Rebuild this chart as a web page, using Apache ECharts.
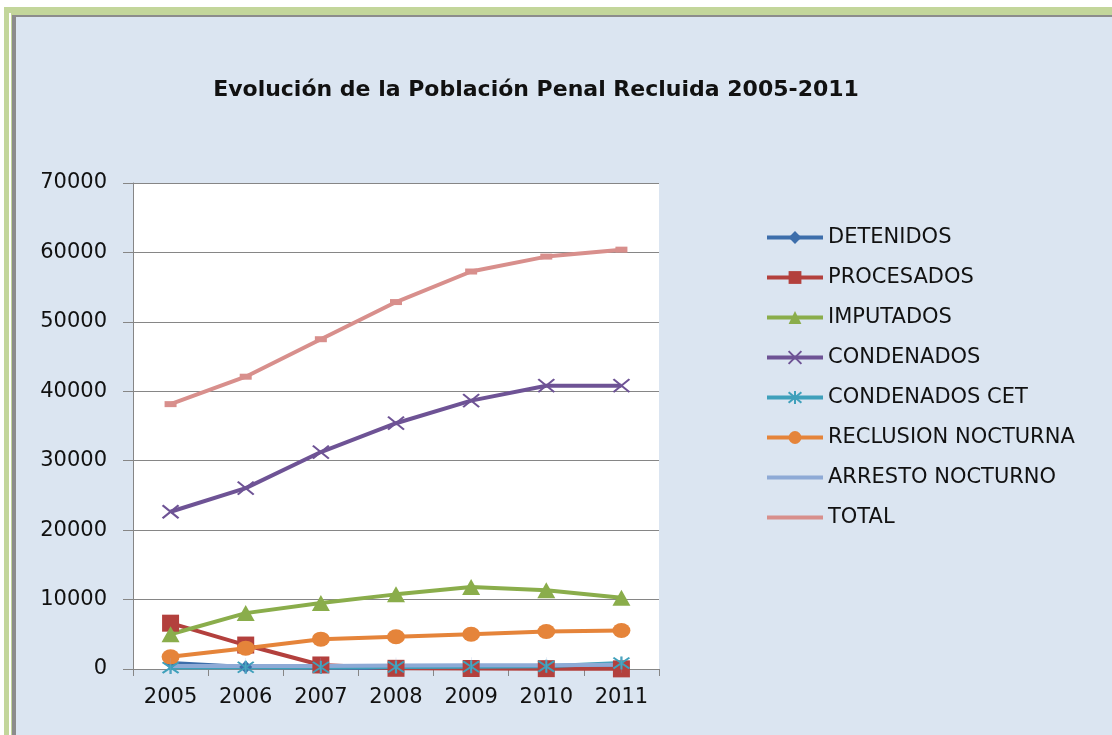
<!DOCTYPE html>
<html>
<head>
<meta charset="utf-8">
<script src="https://cdn.jsdelivr.net/npm/echarts@6/dist/echarts.min.js"></script>
<style>
html,body{margin:0;padding:0;background:#fff;}
#chart{width:1112px;height:735px;}
</style>
</head>
<body>
<div id="chart"></div>
<script>
const years = ['2005','2006','2007','2008','2009','2010','2011'];
const yTicks = [0, 10000, 20000, 30000, 40000, 50000, 60000, 70000];
const detenidos = [850, 280, 200, 150, 150, 150, 180];
const procesados = [6600, 3450, 580, 100, 70, 50, 20];
const imputados = [5000, 8050, 9500, 10750, 11800, 11350, 10250];
const condenados = [22650, 26050, 31250, 35400, 38650, 40800, 40800];
const condenadosCET = [200, 250, 250, 300, 330, 380, 850];
const reclusionNocturna = [1750, 3000, 4300, 4650, 5000, 5400, 5550];
const arrestoNocturno = [450, 450, 450, 500, 550, 550, 600];
const total = [38150, 42100, 47500, 52850, 57250, 59400, 60400];

const chart = echarts.init(document.getElementById('chart'), null, {renderer: 'canvas'});
const FONT = 'DejaVu Sans';
const X_PATH = 'path://M0,0 L10,10 M10,0 L0,10';
const AST_PATH = 'path://M0,0 L10,10 M10,0 L0,10 M5,-1 L5,11';
const BAR_V = 'path://M0,0 L1,0 L1,9 L0,9 Z';

function mk(name, data, color, symbol, size, extra) {
  return Object.assign({
    name: name, type: 'line', data: data,
    symbol: symbol, symbolSize: size,
    lineStyle: {color: color, width: 4},
    itemStyle: {color: color},
    animation: false
  }, extra || {});
}

chart.setOption({
  backgroundColor: '#ffffff',
  animation: false,
  graphic: [
    {type: 'rect', z: -10, shape: {x: 4, y: 7, width: 1108, height: 728}, style: {fill: '#c3d69b'}},
    {type: 'rect', z: -10, shape: {x: 9, y: 13, width: 2, height: 722}, style: {fill: '#ffffff'}},
    {type: 'rect', z: -10, shape: {x: 12, y: 15, width: 1100, height: 720}, style: {fill: '#8c8c8c'}},
    {type: 'rect', z: -10, shape: {x: 16, y: 17, width: 1096, height: 718}, style: {fill: '#dbe5f1'}}
  ],
  title: {
    text: 'Evolución de la Población Penal Recluida 2005-2011',
    left: 531, top: 74, textAlign: 'center',
    textStyle: {fontFamily: FONT, fontSize: 22, fontWeight: 'bold', color: '#111'}
  },
  legend: {
    orient: 'vertical', left: 760, top: 222,
    itemWidth: 56, itemHeight: 16, itemGap: 19,
    selectedMode: false,
    lineStyle: {width: 4},
    textStyle: {fontFamily: FONT, fontSize: 21, color: '#111', lineHeight: 21},
    data: ['DETENIDOS','PROCESADOS','IMPUTADOS','CONDENADOS','CONDENADOS CET','RECLUSION NOCTURNA',
      {name: 'ARRESTO NOCTURNO', itemStyle: {opacity: 0}},
      {name: 'TOTAL', itemStyle: {opacity: 0}}]
  },
  grid: {left: 133, top: 183, width: 526, height: 486, show: true, backgroundColor: '#ffffff', borderWidth: 0},
  xAxis: {
    type: 'category', data: years, boundaryGap: true,
    axisLine: {lineStyle: {color: '#868686', width: 1}},
    axisTick: {show: true, length: 7, lineStyle: {color: '#868686'}},
    axisLabel: {fontFamily: FONT, fontSize: 21, color: '#111', margin: 18}
  },
  yAxis: {
    type: 'value', min: 0, max: 70000, interval: 10000,
    axisLine: {show: true, lineStyle: {color: '#868686', width: 1}},
    axisTick: {show: true, length: 10, lineStyle: {color: '#868686'}},
    axisLabel: {fontFamily: FONT, fontSize: 21, color: '#111', margin: 26,
      formatter: function (v) { return yTicks.indexOf(v) >= 0 ? String(v) : ''; }},
    splitLine: {lineStyle: {color: '#868686', width: 1}}
  },
  series: [
    mk('DETENIDOS', detenidos, '#3d6eab', 'diamond', 13),
    mk('PROCESADOS', procesados, '#b3403d', 'rect', 17),
    mk('IMPUTADOS', imputados, '#8aad4b', 'triangle', [18, 16]),
    mk('CONDENADOS', condenados, '#6e5395', X_PATH, [16, 13], {itemStyle: {color: 'rgba(0,0,0,0)', borderColor: '#6e5395', borderWidth: 2}}),
    mk('CONDENADOS CET', condenadosCET, '#3fa0bb', AST_PATH, [16, 13], {itemStyle: {color: 'rgba(0,0,0,0)', borderColor: '#3fa0bb', borderWidth: 2}}),
    mk('RECLUSION NOCTURNA', reclusionNocturna, '#e5843a', 'circle', [18, 15]),
    mk('ARRESTO NOCTURNO', arrestoNocturno, '#8eaad6', BAR_V, [2, 16], {symbolKeepAspect: true}),
    mk('TOTAL', total, '#d88f8c', 'rect', [12, 6])
  ]
});
</script>
</body>
</html>
